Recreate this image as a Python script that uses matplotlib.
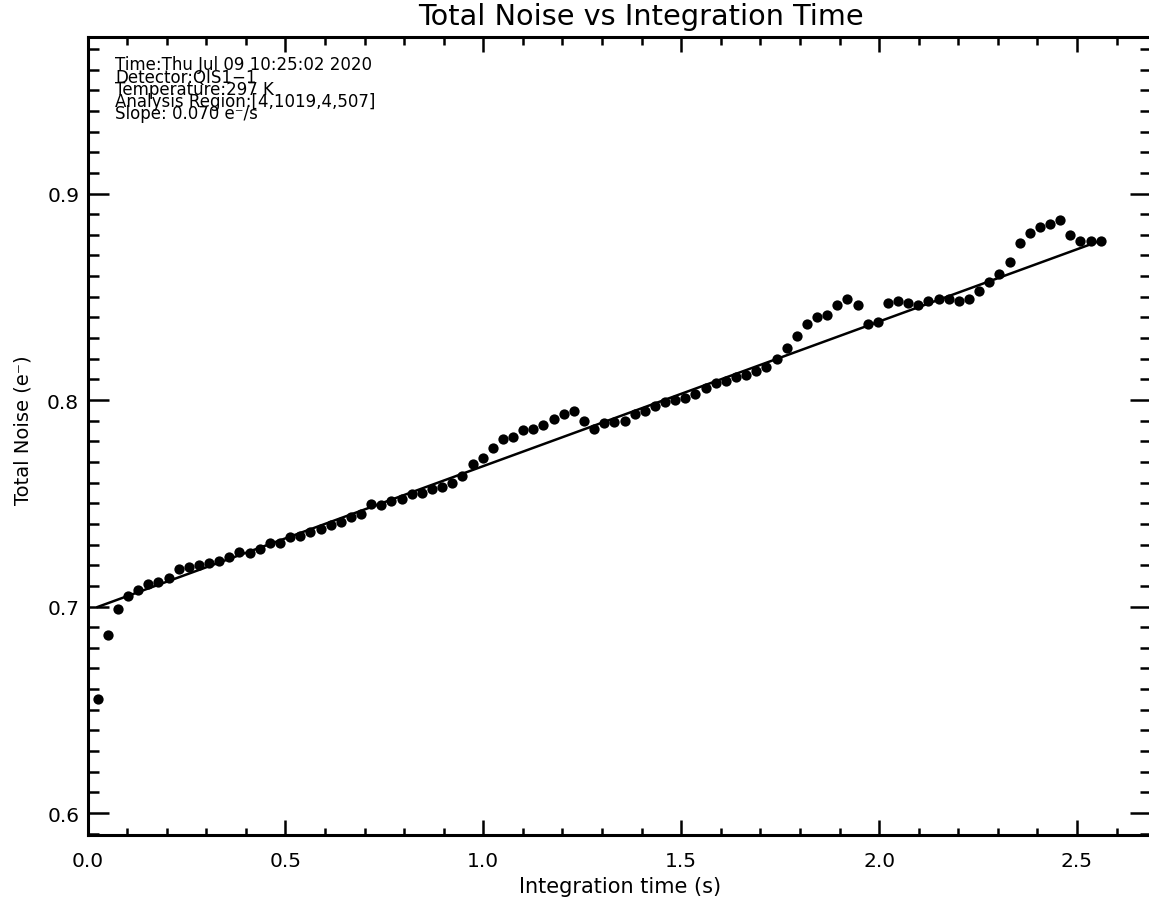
import matplotlib
matplotlib.use("Agg")
import matplotlib.pyplot as plt
from matplotlib.ticker import MultipleLocator, FormatStrFormatter

# Integration time of each frame (s)
integration_time = [
    0.0256, 0.0512, 0.0768, 0.1024, 0.1280, 0.1536, 0.1792, 0.2048, 0.2304, 0.2560,
    0.2816, 0.3072, 0.3328, 0.3584, 0.3840, 0.4096, 0.4352, 0.4608, 0.4864, 0.5120,
    0.5376, 0.5632, 0.5888, 0.6144, 0.6400, 0.6656, 0.6912, 0.7168, 0.7424, 0.7680,
    0.7936, 0.8192, 0.8448, 0.8704, 0.8960, 0.9216, 0.9472, 0.9728, 0.9984, 1.0240,
    1.0496, 1.0752, 1.1008, 1.1264, 1.1520, 1.1776, 1.2032, 1.2288, 1.2544, 1.2800,
    1.3056, 1.3312, 1.3568, 1.3824, 1.4080, 1.4336, 1.4592, 1.4848, 1.5104, 1.5360,
    1.5616, 1.5872, 1.6128, 1.6384, 1.6640, 1.6896, 1.7152, 1.7408, 1.7664, 1.7920,
    1.8176, 1.8432, 1.8688, 1.8944, 1.9200, 1.9456, 1.9712, 1.9968, 2.0224, 2.0480,
    2.0736, 2.0992, 2.1248, 2.1504, 2.1760, 2.2016, 2.2272, 2.2528, 2.2784, 2.3040,
    2.3296, 2.3552, 2.3808, 2.4064, 2.4320, 2.4576, 2.4832, 2.5088, 2.5344, 2.5600,
]

# Measured total noise (e-)
total_noise = [
    0.655, 0.686, 0.699, 0.705, 0.708, 0.711, 0.712, 0.714, 0.718, 0.719,
    0.720, 0.721, 0.722, 0.724, 0.7265, 0.726, 0.728, 0.731, 0.731, 0.7335,
    0.734, 0.736, 0.7375, 0.7395, 0.741, 0.7435, 0.745, 0.7495, 0.749, 0.751,
    0.752, 0.7545, 0.755, 0.757, 0.758, 0.760, 0.763, 0.769, 0.772, 0.777,
    0.781, 0.782, 0.7855, 0.786, 0.788, 0.791, 0.793, 0.7945, 0.790, 0.786,
    0.789, 0.7895, 0.790, 0.793, 0.7945, 0.797, 0.799, 0.800, 0.801, 0.803,
    0.806, 0.808, 0.809, 0.811, 0.812, 0.814, 0.816, 0.820, 0.825, 0.831,
    0.837, 0.840, 0.841, 0.846, 0.849, 0.846, 0.837, 0.838, 0.847, 0.848,
    0.847, 0.846, 0.848, 0.849, 0.849, 0.848, 0.849, 0.853, 0.857, 0.861,
    0.867, 0.876, 0.881, 0.884, 0.885, 0.887, 0.880, 0.877, 0.877, 0.877,
]

# Linear fit
fit_slope = 0.070
fit_intercept = 0.698

info_lines = [
    "Time:Thu Jul 09 10:25:02 2020",
    "Detector:QIS1\u22121",
    "Temperature:297 K",
    "Analysis Region:[4,1019,4,507]",
    "Slope: 0.070 e\u207b/s",
]

W, H = 1149, 903
plt.rcParams["font.family"] = ["DejaVu Sans"]
fig = plt.figure(figsize=(W / 100, H / 100), dpi=100)

x_max = integration_time[-1] * 1.05
y_min = min(total_noise) * 0.9
y_max = max(total_noise) * 1.1

left_px, right_px = 87.5, 1151.4
top_px, bottom_px = 38.2, 835.7
ax = fig.add_axes([left_px / W, 1 - bottom_px / H,
                   (right_px - left_px) / W, (bottom_px - top_px) / H])

ax.plot(integration_time, total_noise, "o", color="black", markersize=7.4,
        markeredgewidth=0)
fit_x = [integration_time[0], integration_time[-1]]
fit_y = [fit_intercept + fit_slope * t for t in fit_x]
ax.plot(fit_x, fit_y, "-", color="black", linewidth=1.8)

ax.set_xlim(0, x_max)
ax.set_ylim(y_min, y_max)

ax.xaxis.set_major_locator(MultipleLocator(0.5))
ax.xaxis.set_minor_locator(MultipleLocator(0.1))
ax.yaxis.set_major_locator(MultipleLocator(0.1))
ax.yaxis.set_minor_locator(MultipleLocator(0.01))
ax.xaxis.set_major_formatter(FormatStrFormatter("%.1f"))
ax.yaxis.set_major_formatter(FormatStrFormatter("%.1f"))

ax.tick_params(which="both", direction="in", top=True, right=True,
               width=1.8, color="black", labelsize=14.5)
ax.tick_params(axis="x", which="major", length=10.8, pad=12)
ax.tick_params(axis="x", which="minor", length=5.4)
ax.tick_params(axis="y", which="major", length=15, pad=6)
ax.tick_params(axis="y", which="minor", length=7.6)

for sp in ax.spines.values():
    sp.set_linewidth(2.2)

fig.text(641 / W, 1 - 17 / H, "Total Noise vs Integration Time",
         ha="center", va="center", fontsize=20.7)
fig.text(620 / W, 1 - 887 / H, "Integration time (s)",
         ha="center", va="center", fontsize=15)
fig.text(23 / W, 1 - 430 / H, "Total Noise (e\u207b)",
         ha="center", va="center", rotation=90, fontsize=14)

# Run information block in the upper-left corner of the plot
fig.text(115 / W, 1 - 56.5 / H, "\n".join(info_lines),
         ha="left", va="top", fontsize=12, linespacing=0.58)

fig.savefig("out.png", dpi=100, facecolor="white")
